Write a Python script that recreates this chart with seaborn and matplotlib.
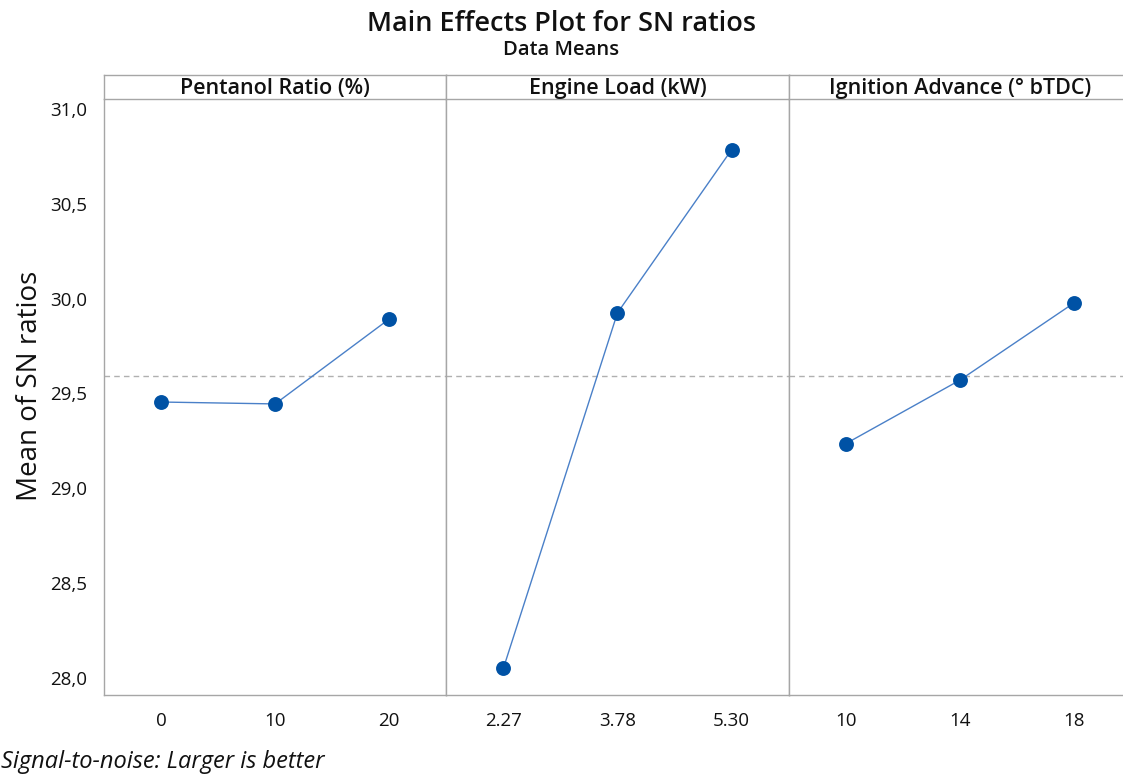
import numpy as np
import pandas as pd
import matplotlib
matplotlib.use("Agg")
import matplotlib.pyplot as plt
import seaborn as sns

# Factor levels and mean SN ratios (larger is better)
factor_names = ["Pentanol Ratio (%)", "Engine Load (kW)", "Ignition Advance (° bTDC)"]
levels_pentanol = ["0", "10", "20"]
levels_load = ["2.27", "3.78", "5.30"]
levels_ignition = ["10", "14", "18"]
sn_pentanol = [29.455, 29.445, 29.893]
sn_load = [28.05, 29.925, 30.785]
sn_ignition = [29.235, 29.570, 29.977]
y_ticks = [28.0, 28.5, 29.0, 29.5, 30.0, 30.5, 31.0]

levels = [levels_pentanol, levels_load, levels_ignition]
values = [sn_pentanol, sn_load, sn_ignition]
grand_mean = float(np.mean(sn_pentanol + sn_load + sn_ignition))

sns.set_theme(style="white")
plt.rcParams["font.family"] = ["Open Sans", "DejaVu Sans"]

W, H = 1123, 779
fig = plt.figure(figsize=(W / 100, H / 100), dpi=100)

edge = "#a6a6a6"
line_col = "#4a80c8"
mark_col = "#0052a5"
ink = "#111111"

left_px, top_px, bottom_px = 104, 99, 695
panel_w = 342.3
strip_h = 24

for i, (name, lv, vals) in enumerate(zip(factor_names, levels, values)):
    x0 = (left_px + i * panel_w) / W
    ax = fig.add_axes([x0, 1 - bottom_px / H, panel_w / W, (bottom_px - top_px) / H])
    df = pd.DataFrame({"pos": np.arange(len(lv)), "sn": vals})
    ax.axhline(grand_mean, color="#b0b0b0", lw=1.0, ls=(0, (4, 3)), zorder=1)
    sns.lineplot(data=df, x="pos", y="sn", ax=ax, color=line_col, lw=1.0, zorder=2)
    sns.scatterplot(data=df, x="pos", y="sn", ax=ax, color=mark_col, s=115,
                    edgecolor=mark_col, linewidth=0, zorder=3)
    ax.set_xlim(-0.5, 2.5)
    ax.set_ylim(27.91, 31.053)
    ax.set_xticks(range(len(lv)))
    ax.set_xticklabels(lv)
    ax.set_yticks(y_ticks)
    ax.set_xlabel("")
    ax.set_ylabel("")
    for s in ax.spines.values():
        s.set_color(edge)
        s.set_linewidth(1.0)
    ax.spines["top"].set_visible(False)
    ax.tick_params(axis="both", which="both", length=5, width=1, color=edge,
                   labelsize=13.5, labelcolor=ink, pad=7, direction="out")
    if i == 0:
        ax.set_yticklabels([f"{t:.1f}".replace(".", ",") for t in y_ticks])
    else:
        ax.tick_params(axis="y", left=False, labelleft=False)

    # header strip carrying the factor name
    sax = fig.add_axes([x0, 1 - top_px / H, panel_w / W, strip_h / H])
    sax.set_xticks([])
    sax.set_yticks([])
    sax.set_facecolor("white")
    for s in sax.spines.values():
        s.set_color(edge)
        s.set_linewidth(1.0)
    sax.text(0.5, 0.42, name, ha="center", va="center", fontsize=15.5,
             fontweight="semibold", color=ink, transform=sax.transAxes)

fig.text(0.5, 1 - 24 / H, "Main Effects Plot for SN ratios", ha="center", va="center",
         fontsize=19.5, fontweight="semibold", color=ink)
fig.text(0.5, 1 - 50 / H, "Data Means", ha="center", va="center",
         fontsize=14.5, fontweight="semibold", color=ink)
fig.text(30 / W, 1 - 386 / H, "Mean of SN ratios", ha="center", va="center",
         rotation=90, fontsize=20, color=ink)
fig.text(1 / W, 1 - 762 / H, "Signal-to-noise: Larger is better", ha="left", va="center",
         fontsize=17, style="italic", color=ink)

fig.savefig("out.png", dpi=100)
